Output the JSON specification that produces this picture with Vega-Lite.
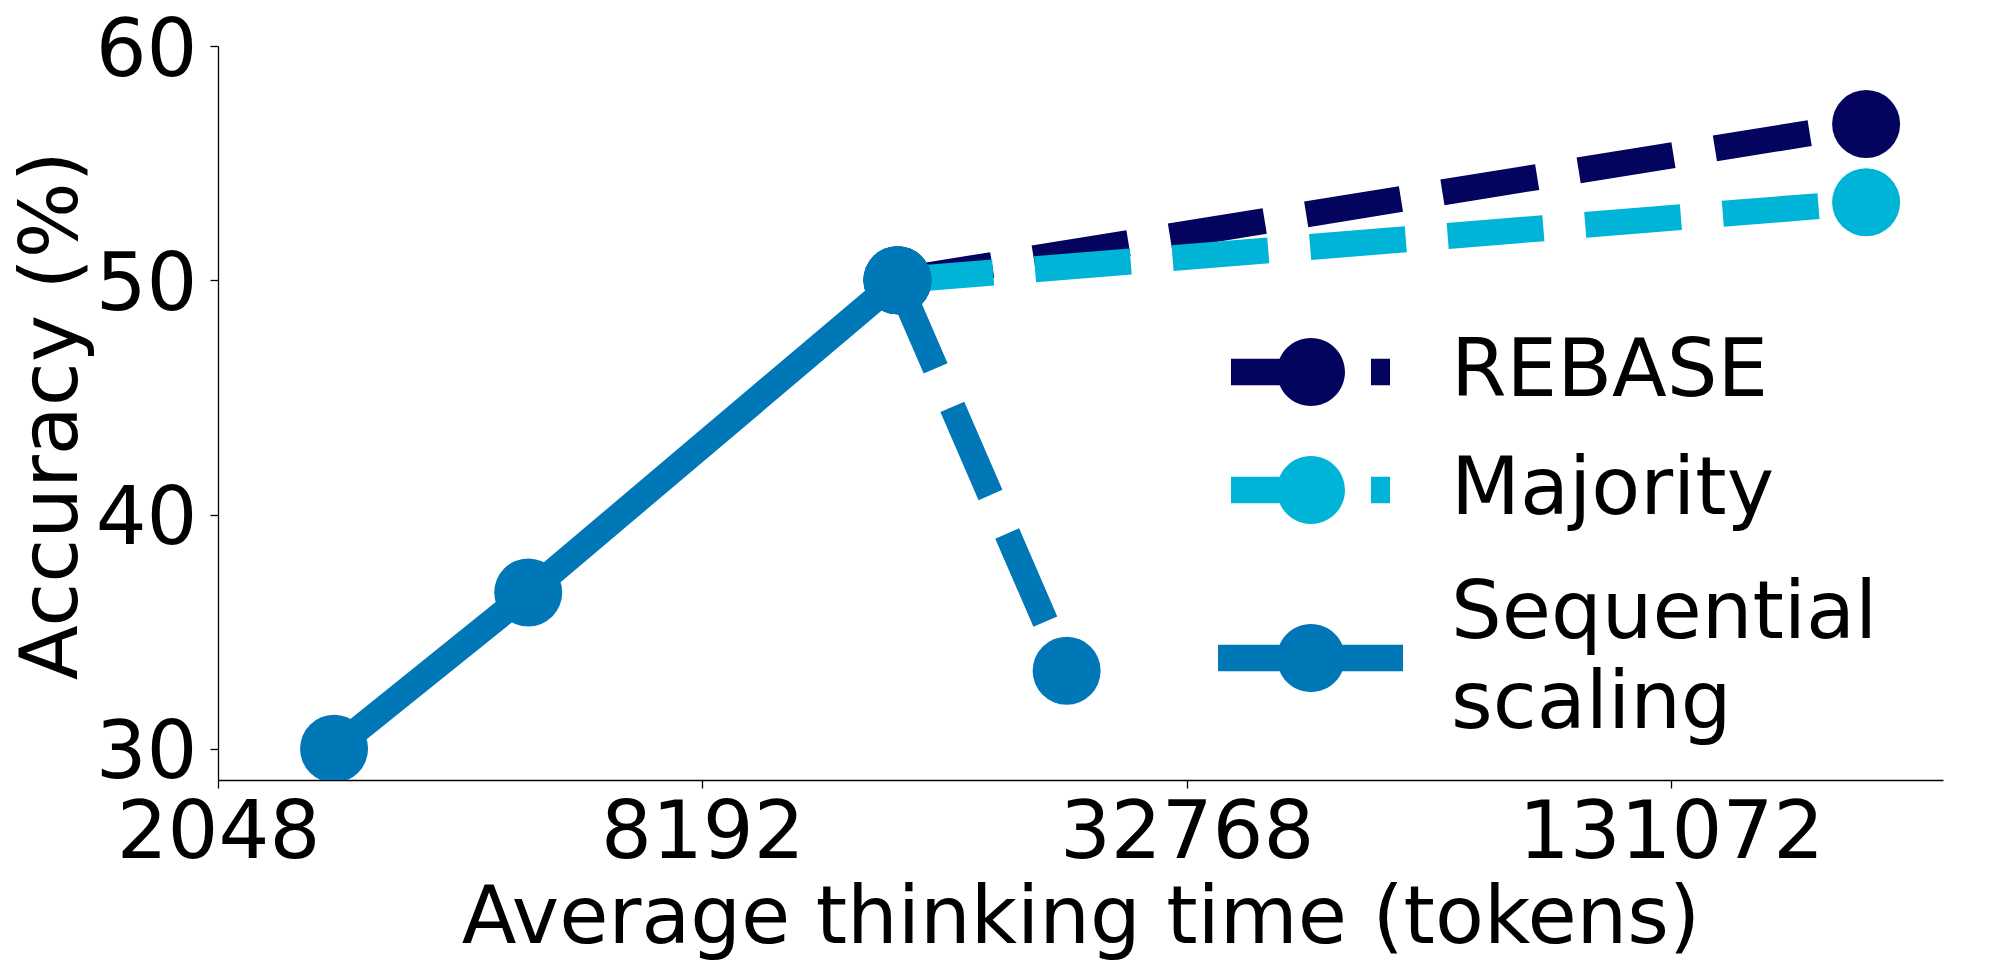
{
  "$schema": "https://vega.github.io/schema/vega-lite/v6.json",
  "width": 1725,
  "height": 734,
  "autosize": "none",
  "padding": {"left": 218, "top": 46, "right": 57, "bottom": 195},
  "background": "white",
  "config": {
    "font": "DejaVu Sans",
    "view": {"stroke": null},
    "axis": {"grid": false, "domainColor": "black", "tickColor": "black", "labelColor": "black", "titleColor": "black", "domainWidth": 1.3, "tickWidth": 1.3}
  },
  "data": {
    "values": [
      {"method": "REBASE", "seg": "REBASE", "style": "dashed", "tokens": 14320, "accuracy": 50.0},
      {"method": "REBASE", "seg": "REBASE", "style": "dashed", "tokens": 229100, "accuracy": 56.67},
      {"method": "Majority", "seg": "Majority", "style": "dashed", "tokens": 14320, "accuracy": 50.0},
      {"method": "Majority", "seg": "Majority", "style": "dashed", "tokens": 229100, "accuracy": 53.33},
      {"method": "Sequential scaling", "seg": "Sequential dashed", "style": "dashed", "tokens": 14320, "accuracy": 50.0},
      {"method": "Sequential scaling", "seg": "Sequential dashed", "style": "dashed", "tokens": 23240, "accuracy": 33.33},
      {"method": "Sequential scaling", "seg": "Sequential solid", "style": "solid", "tokens": 2855, "accuracy": 30.0},
      {"method": "Sequential scaling", "seg": "Sequential solid", "style": "solid", "tokens": 4977, "accuracy": 36.67},
      {"method": "Sequential scaling", "seg": "Sequential solid", "style": "solid", "tokens": 14320, "accuracy": 50.0}
    ]
  },
  "encoding": {
    "x": {
      "field": "tokens", "type": "quantitative",
      "scale": {"type": "log", "base": 2, "domain": [2048, 285500], "nice": false, "zero": false},
      "axis": {
        "values": [2048, 8192, 32768, 131072], "format": "d",
        "labelFontSize": 80, "labelFlush": false, "labelOverlap": false, "labelLimit": 0,
        "tickSize": 8, "labelPadding": 6,
        "title": "Average thinking time (tokens)", "titleFontSize": 80, "titleFontWeight": "normal",
        "titleBaseline": "alphabetic", "titleY": 162, "titleLimit": 0
      }
    },
    "y": {
      "field": "accuracy", "type": "quantitative",
      "scale": {"domain": [28.667, 60], "nice": false, "zero": false},
      "axis": {
        "values": [30, 40, 50, 60],
        "labelFontSize": 80, "labelOverlap": false, "labelFlush": false, "labelLimit": 0,
        "tickSize": 8, "labelPadding": 13, "labelOffset": 5,
        "title": "Accuracy (%)", "titleFontSize": 80, "titleFontWeight": "normal",
        "titleBaseline": "alphabetic", "titleAngle": 270, "titleX": -142, "titleY": 369, "titleLimit": 0
      }
    }
  },
  "layer": [
    {
      "transform": [{"filter": "datum.style == 'dashed'"}],
      "mark": {"type": "line", "strokeWidth": 26, "strokeDash": [96, 42], "strokeCap": "butt", "clip": true},
      "encoding": {
        "stroke": {"field": "method", "type": "nominal", "legend": null,
          "scale": {"domain": ["Majority", "REBASE", "Sequential scaling"], "range": ["#00b4d8", "#03045e", "#0077b6"]}},
        "detail": {"field": "seg"}
      }
    },
    {
      "transform": [{"filter": "datum.style == 'solid'"}],
      "mark": {"type": "line", "strokeWidth": 26, "strokeCap": "square", "strokeJoin": "round", "clip": true},
      "encoding": {
        "stroke": {"field": "method", "type": "nominal", "legend": null},
        "detail": {"field": "seg"}
      }
    },
    {
      "mark": {"type": "point", "filled": true, "size": 4624, "opacity": 1, "strokeWidth": 0, "clip": true},
      "encoding": {
        "color": {"field": "method", "type": "nominal",
          "scale": {"domain": ["REBASE", "Majority", "Sequential scaling"], "range": ["#03045e", "#00b4d8", "#0077b6"]},
          "legend": {
            "orient": "none", "legendX": 1053, "legendY": 286,
            "title": null, "padding": 0,
            "symbolSize": 6400, "symbolStrokeWidth": 0, "symbolOpacity": 1,
            "labelFontSize": 80, "labelFont": "DejaVu Sans", "labelColor": "black",
            "labelOffset": 100, "rowPadding": 38, "labelLimit": 0,
            "labelExpr": "datum.label == 'Sequential scaling' ? ['Sequential', 'scaling'] : datum.label",
            "encode": {
              "symbols": {"update": {"strokeWidth": {"value": 0}, "y": {"signal": "datum.value === 'Sequential scaling' ? 90 : 40"}}},
              "labels": {"update": {"lineHeight": {"value": 90}, "dy": {"signal": "datum.value === 'Sequential scaling' ? 6 : 0"}}}
            }
          }
        }
      }
    },
    {
      "transform": [{"filter": "datum.accuracy > 1000"}],
      "mark": {"type": "point", "filled": true},
      "encoding": {
        "shape": {
          "field": "method", "type": "nominal",
          "scale": {
            "domain": ["REBASE", "Majority", "Sequential scaling"],
            "range": [
              "M -2.325 0 L -2.325 0.001 Z M 2.3 0 L 2.3 0.001 Z M -2 -0.333 L 0 -0.333 L 0 0.333 L -2 0.333 Z M 1.5 -0.333 L 1.975 -0.333 L 1.975 0.333 L 1.5 0.333 Z M -0.85 0 A 0.85 0.85 0 1 1 0.85 0 A 0.85 0.85 0 1 1 -0.85 0 Z",
              "M -2.325 0 L -2.325 0.001 Z M 2.3 0 L 2.3 0.001 Z M -2 -0.333 L 0 -0.333 L 0 0.333 L -2 0.333 Z M 1.5 -0.333 L 1.975 -0.333 L 1.975 0.333 L 1.5 0.333 Z M -0.85 0 A 0.85 0.85 0 1 1 0.85 0 A 0.85 0.85 0 1 1 -0.85 0 Z",
              "M -2.325 -0.333 L 2.3 -0.333 L 2.3 0.333 L -2.325 0.333 Z M -0.85 0 A 0.85 0.85 0 1 1 0.85 0 A 0.85 0.85 0 1 1 -0.85 0 Z"
            ]
          }
        }
      }
    }
  ]
}
